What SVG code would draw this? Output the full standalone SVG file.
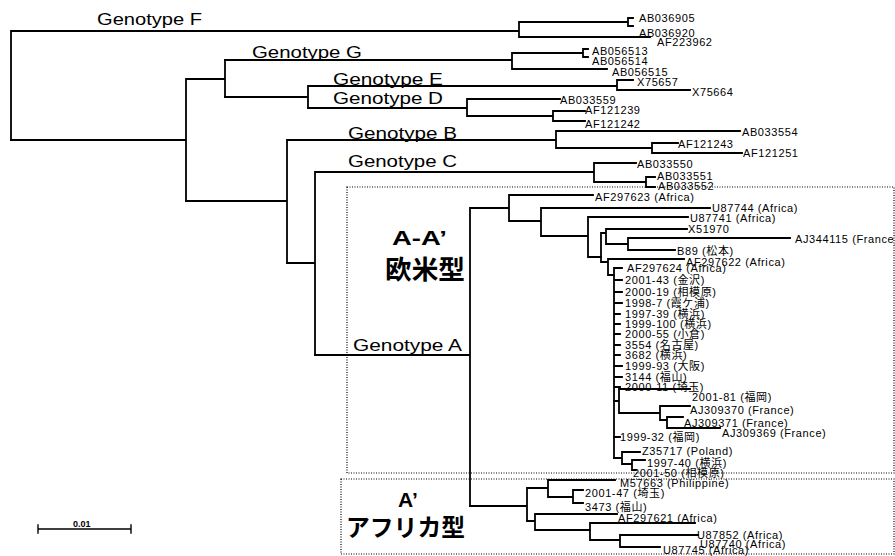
<svg xmlns="http://www.w3.org/2000/svg" width="895" height="556" viewBox="0 0 895 556">
<style>
.b{fill:none;stroke:#000;stroke-width:1.8;stroke-linecap:square}
.box{fill:none;stroke:#000;stroke-width:1.2;stroke-dasharray:1 1.5}
.g{font-family:"Liberation Sans","Noto Sans CJK JP",sans-serif;font-size:16px;fill:#000}
.t{font-family:"Liberation Sans","Noto Sans CJK JP",sans-serif;font-size:11px;letter-spacing:0.6px;fill:#000}
.big{font-family:"Liberation Sans","Noto Sans CJK JP",sans-serif;font-weight:bold;fill:#000}
.cjk{font-family:"Noto Sans CJK JP",sans-serif;font-weight:bold;fill:#000}
</style>
<rect width="895" height="556" fill="#fff"/>
<g id="boxes">
<rect class="box" x="347" y="187" width="547" height="286"/>
<rect class="box" x="341" y="479" width="553" height="75"/>
</g>
<g id="connectors" class="b">
<path d="M11,31V140M11,31H519M519,22V37M519,22H627M628,18V26M628,18H633M628,26H633M519,37H650"/>
<path d="M11,140H186M186,79V201M186,79H225M225,60V97"/>
<path d="M225,60H512M512,53V69M512,53H583M583,49V57M583,49H588M583,57H588M512,69H607"/>
<path d="M225,97H308M308,86V108M308,86H617M617,80V90M617,80H633M617,90H690"/>
<path d="M308,108H467M467,99V116M467,99H560M467,116H553M553,111V121M553,111H585M553,121H585"/>
<path d="M186,201H287M287,140V263M287,140H556M556,131V148M556,131H740M556,148H652M652,143V153M652,143H678M652,153H742"/>
<path d="M287,263H315M315,172V355M315,172H594M594,163V182M594,163H636M594,182H646M646,177V187M646,177H655M646,187H655"/>
<path d="M315,355H470M470,208V506M470,208H509M509,195V221M509,195H593M509,221H541M541,208V236M541,208H710M541,236H588M588,217V257M588,217H688M588,257H601"/>
<path d="M601,233V262M601,233H606M606,229V244M606,229H687M606,244H628M628,238V250M628,238H790M628,250H675M601,262H608M608,259V275M608,259H684M608,275H614"/>
<path d="M614,268V458M614,268H622M614,280H622M614,292H622M614,303H622M614,314H620M614,324H620M614,334H620M614,345H620M614,355H620M614,366H622M614,377H622M614,387H620"/>
<path d="M614,401H619M619,389V413M619,389H690M619,413H660M660,406V420M660,406H690M660,420H667M667,417V428M667,417H683M667,428H720"/>
<path d="M614,437H620M614,458H622M622,452V464M622,452H640M622,464H632M632,460V470M632,460H645M632,470H636"/>
<path d="M470,506H527M527,488V521M527,488H548M548,480V497M548,480H615M548,497H573M573,490V503M573,490H583M573,503H583"/>
<path d="M527,521H535M535,514V530M535,514H617M535,530H590M590,523V540M590,523H695M590,540H620M620,535V547M620,535H698M620,547H660"/>
</g>
<g id="scale">
<path class="b" d="M38,529H131M38,525V533M131,525V533" style="stroke-width:1.4"/>
<text x="73" y="527" style="font-family:'Liberation Sans',sans-serif;font-size:9px;font-weight:bold">0.01</text>
</g>
<g id="genotype-labels">
<text id="gF" class="g" x="97" y="25" textLength="105" lengthAdjust="spacingAndGlyphs">Genotype F</text>
<text id="gG" class="g" x="252" y="58" textLength="110" lengthAdjust="spacingAndGlyphs">Genotype G</text>
<text id="gE" class="g" x="333" y="85" textLength="110" lengthAdjust="spacingAndGlyphs">Genotype E</text>
<text id="gD" class="g" x="333" y="104" textLength="110" lengthAdjust="spacingAndGlyphs">Genotype D</text>
<text id="gB" class="g" x="348" y="139" textLength="109" lengthAdjust="spacingAndGlyphs">Genotype B</text>
<text id="gC" class="g" x="348" y="167" textLength="109" lengthAdjust="spacingAndGlyphs">Genotype C</text>
<text id="gA" class="g" x="353" y="351" textLength="109" lengthAdjust="spacingAndGlyphs">Genotype A</text>
</g>
<g id="group-labels">
<text class="big" x="392" y="245" font-size="21" textLength="55" lengthAdjust="spacingAndGlyphs">A-A’</text>
<text class="cjk" x="385" y="279" font-size="26" textLength="80" lengthAdjust="spacingAndGlyphs">欧米型</text>
<text class="big" x="398" y="507" font-size="21">A’</text>
<text class="cjk" x="346" y="536" font-size="24" textLength="119" lengthAdjust="spacingAndGlyphs">アフリカ型</text>
</g>
<g id="leaves" class="t">
<g id="n1"><text x="639" y="22">AB036905</text></g>
<g id="n2"><text x="639" y="37">AB036920</text></g>
<g id="n3"><text x="657" y="46">AF223962</text></g>
<g id="n4"><text x="592" y="55">AB056513</text></g>
<g id="n5"><text x="592" y="65">AB056514</text></g>
<g id="n6"><text x="612" y="76">AB056515</text></g>
<g id="n7"><text x="637" y="86">X75657</text></g>
<g id="n8"><text x="692" y="96">X75664</text></g>
<g id="n9"><text x="560" y="104">AB033559</text></g>
<g id="n10"><text x="585" y="114">AF121239</text></g>
<g id="n11"><text x="585" y="128">AF121242</text></g>
<g id="n12"><text x="742" y="136">AB033554</text></g>
<g id="n13"><text x="678" y="148">AF121243</text></g>
<g id="n14"><text x="743" y="157">AF121251</text></g>
<g id="n15"><text x="637" y="168">AB033550</text></g>
<g id="n16"><text x="657" y="180">AB033551</text></g>
<g id="n17"><text x="658" y="190">AB033552</text></g>
<g id="n18"><text x="595" y="201">AF297623 (Africa)</text></g>
<g id="n19"><text x="712" y="212">U87744 (Africa)</text></g>
<g id="n20"><text x="690" y="222">U87741 (Africa)</text></g>
<g id="n21"><text x="688" y="233">X51970</text></g>
<g id="n22"><text x="795" y="243">AJ344115 (France)</text></g>
<g id="n23"><text x="677" y="255">B89 (松本)</text></g>
<g id="n24"><text x="686" y="266">AF297622 (Africa)</text></g>
<g id="n25"><text x="627" y="272">AF297624 (Africa)</text></g>
<g id="n26"><text x="625" y="284">2001-43 (金沢)</text></g>
<g id="n27"><text x="625" y="296">2000-19 (相模原)</text></g>
<g id="n28"><text x="625" y="307">1998-7 (霞ケ浦)</text></g>
<g id="n29"><text x="625" y="318">1997-39 (横浜)</text></g>
<g id="n30"><text x="625" y="328">1999-100 (横浜)</text></g>
<g id="n31"><text x="625" y="338">2000-55 (小倉)</text></g>
<g id="n32"><text x="625" y="349">3554 (名古屋)</text></g>
<g id="n33"><text x="625" y="359">3682 (横浜)</text></g>
<g id="n34"><text x="625" y="370">1999-93 (大阪)</text></g>
<g id="n35"><text x="625" y="381">3144 (福山)</text></g>
<g id="n36"><text x="625" y="391">2000-11 (埼玉)</text></g>
<g id="n37"><text x="692" y="401">2001-81 (福岡)</text></g>
<g id="n38"><text x="690" y="414">AJ309370 (France)</text></g>
<g id="n39"><text x="684" y="427">AJ309371 (France)</text></g>
<g id="n40"><text x="722" y="437">AJ309369 (France)</text></g>
<g id="n41"><text x="620" y="441">1999-32 (福岡)</text></g>
<g id="n42"><text x="642" y="455">Z35717 (Poland)</text></g>
<g id="n43"><text x="647" y="467">1997-40 (横浜)</text></g>
<g id="n44"><text x="633" y="477">2001-50 (相模原)</text></g>
<g id="n45"><text x="620" y="487">M57663 (Philippine)</text></g>
<g id="n46"><text x="585" y="497">2001-47 (埼玉)</text></g>
<g id="n47"><text x="585" y="511">3473 (福山)</text></g>
<g id="n48"><text x="618" y="522">AF297621 (Africa)</text></g>
<g id="n49"><text x="697" y="539">U87852 (Africa)</text></g>
<g id="n50"><text x="700" y="548">U87740 (Africa)</text></g>
<g id="n51"><text x="663" y="554">U87745 (Africa)</text></g>
</g>
</svg>
